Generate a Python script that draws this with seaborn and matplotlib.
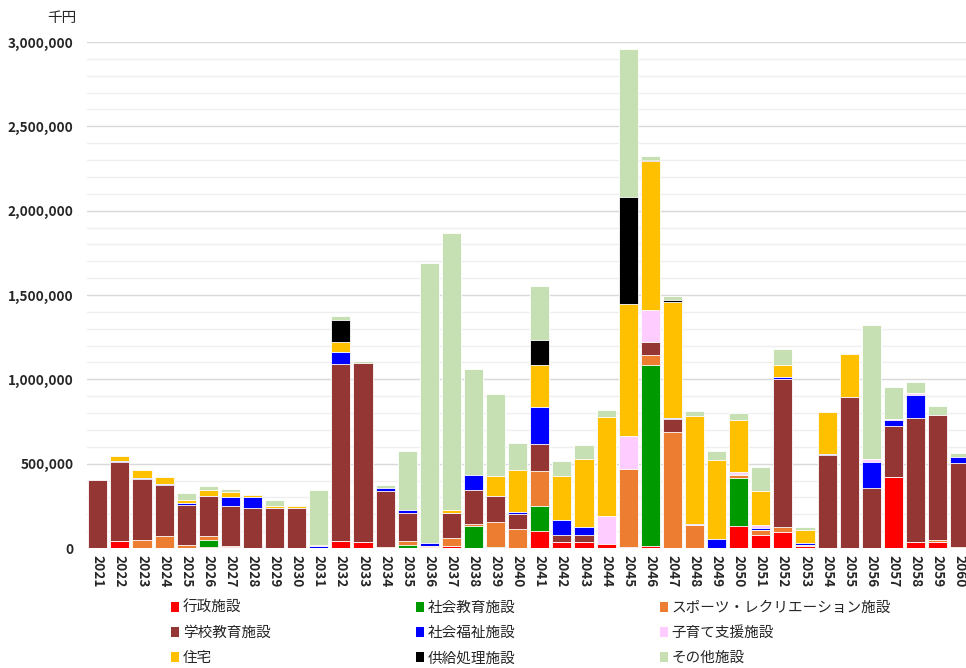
import matplotlib
matplotlib.use("Agg")
import matplotlib.pyplot as plt
from matplotlib.patches import Patch
from matplotlib.ticker import FuncFormatter, MultipleLocator
import numpy as np
import pandas as pd
import seaborn as sns

# 年度
years = [str(y) for y in range(2021, 2061)]

# 施設類型別の更新費用（千円）
gyosei = [0, 40000, 0, 0, 0, 8000, 5000, 0, 0, 0,
          0, 40000, 36000, 0, 0, 5000, 10000, 0, 0, 0,
          101000, 38000, 38000, 24000, 6000, 14000, 0, 0, 0, 132000,
          78000, 96000, 12000, 0, 0, 0, 419000, 38000, 36000, 0]
shakai_kyoiku = [0, 0, 0, 0, 0, 40000, 0, 0, 0, 0,
                 0, 0, 0, 0, 16000, 0, 0, 130000, 8000, 0,
                 148000, 0, 0, 0, 0, 1069000, 0, 0, 0, 283000,
                 0, 0, 0, 0, 0, 0, 0, 0, 0, 0]
sports = [0, 0, 49000, 73000, 18000, 22000, 8000, 0, 0, 0,
          0, 0, 0, 6000, 24000, 8000, 47000, 10000, 144000, 113000,
          206000, 0, 0, 0, 465000, 64000, 688000, 134000, 0, 16000,
          26000, 28000, 8000, 0, 0, 0, 0, 0, 12000, 6000]
gakko = [405000, 468000, 358000, 298000, 239000, 237000, 235000, 235000, 235000, 235000,
         0, 1053000, 1061000, 332000, 168000, 0, 148000, 206000, 154000, 89000,
         164000, 41000, 41000, 0, 0, 76000, 78000, 0, 0, 0,
         0, 878000, 0, 550000, 897000, 353000, 305000, 732000, 742000, 500000]
fukushi = [0, 6000, 6000, 8000, 8000, 0, 55000, 65000, 0, 0,
           10000, 69000, 0, 16000, 16000, 15000, 0, 85000, 0, 12000,
           217000, 85000, 45000, 0, 0, 0, 6000, 10000, 56000, 10000,
           16000, 12000, 12000, 10000, 0, 158000, 32000, 136000, 0, 34000]
kosodate = [0, 0, 0, 0, 0, 0, 0, 0, 0, 0,
            0, 0, 0, 0, 0, 0, 0, 0, 0, 0,
            0, 0, 0, 166000, 191000, 189000, 0, 0, 0, 10000,
            14000, 0, 0, 0, 0, 14000, 10000, 14000, 0, 0]
jutaku = [0, 34000, 47000, 40000, 18000, 36000, 30000, 16000, 14000, 12000,
          8000, 61000, 0, 0, 0, 0, 18000, 0, 123000, 247000,
          249000, 261000, 403000, 587000, 786000, 882000, 686000, 636000, 467000, 309000,
          205000, 72000, 72000, 249000, 251000, 0, 0, 0, 0, 0]
kyokyu = [0, 0, 0, 0, 0, 0, 0, 0, 0, 0,
          0, 130000, 0, 0, 0, 0, 0, 0, 0, 0,
          146000, 0, 0, 0, 634000, 8000, 10000, 0, 0, 0,
          0, 0, 0, 0, 0, 0, 0, 0, 0, 0]
sonota = [0, 0, 0, 0, 43000, 22000, 16000, 0, 34000, 8000,
          325000, 24000, 10000, 22000, 350000, 1660000, 1642000, 628000, 482000, 160000,
          320000, 93000, 81000, 43000, 878000, 22000, 24000, 30000, 52000, 40000,
          144000, 92000, 20000, 0, 10000, 796000, 187000, 62000, 52000, 26000]

categories = ["行政施設", "社会教育施設", "スポーツ・レクリエーション施設",
              "学校教育施設", "社会福祉施設", "子育て支援施設",
              "住宅", "供給処理施設", "その他施設"]
series = [gyosei, shakai_kyoiku, sports, gakko, fukushi, kosodate,
          jutaku, kyokyu, sonota]
colors = ["#FF0000", "#009900", "#ED7D31", "#943634", "#0000FF", "#FFCCFF",
          "#FFC000", "#000000", "#C6E0B4"]

df = pd.DataFrame({c: s for c, s in zip(categories, series)}, index=years)
cum = df.cumsum(axis=1)

sns.set_theme(style="white")
plt.rcParams["font.family"] = ["Noto Sans CJK JP", "DejaVu Sans"]

W, H = 966, 668
fig = plt.figure(figsize=(W / 100, H / 100), dpi=100)
ax = fig.add_axes([86.75 / W, 1 - 548 / H, 884 / W, 506 / H])

# 積み上げ：上位の累計から順に重ねて描く
for cat, col in reversed(list(zip(categories, colors))):
    sns.barplot(x=years, y=cum[cat].values, color=col, saturation=1,
                width=0.86, edgecolor="white", linewidth=0.6,
                errorbar=None, ax=ax, zorder=3)

ax.set_ylim(0, 3000000)
ax.yaxis.set_major_locator(MultipleLocator(500000))
ax.yaxis.set_minor_locator(MultipleLocator(100000))
ax.grid(axis="y", which="major", color="#d9d9d9", linewidth=1.0, zorder=0)
ax.grid(axis="y", which="minor", color="#efefef", linewidth=1.0, zorder=0)
ax.grid(axis="x", visible=False)
ax.yaxis.set_major_formatter(FuncFormatter(lambda v, p: f"{int(v):,}"))
for s in ax.spines.values():
    s.set_visible(False)
ax.set_xlabel("")
ax.set_ylabel("")
ax.tick_params(axis="y", which="both", length=0, pad=9.5, labelsize=9.8)
ax.tick_params(axis="x", length=0, pad=5, labelsize=9.8)
for lab in ax.get_yticklabels():
    lab.set_fontweight("bold")
for lab in ax.get_xticklabels():
    lab.set_rotation(270)
    lab.set_fontweight("bold")

fig.text(62 / W, 1 - 18 / H, "千円", ha="center", va="center", fontsize=10.5)

# 凡例（行方向に並べるため列順に並べ替え）
order = [0, 3, 6, 1, 4, 7, 2, 5, 8]
handles = [Patch(facecolor=colors[i], edgecolor="none") for i in order]
labels = [categories[i] for i in order]
fig.legend(handles, labels, ncol=3, loc="upper left",
           bbox_to_anchor=(171 / W, 1 - 601 / H), frameon=False,
           borderaxespad=0, borderpad=0, fontsize=10.5,
           handlelength=0.55, handleheight=0.7, handletextpad=0.25,
           columnspacing=9.95, labelspacing=0.76)

fig.savefig("out.png", dpi=100)
